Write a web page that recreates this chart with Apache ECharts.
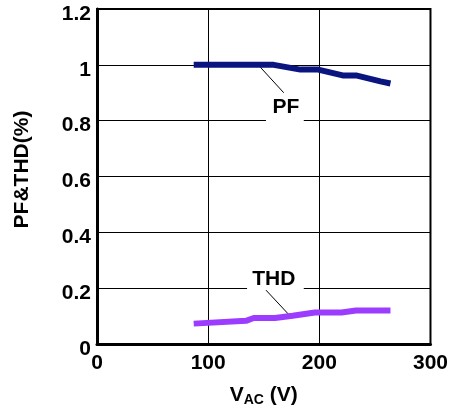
<!DOCTYPE html>
<html><head><meta charset="utf-8">
<script src="https://cdn.jsdelivr.net/npm/echarts@6/dist/echarts.min.js"></script>
<style>html,body{margin:0;padding:0;background:#fff}#c{width:451px;height:412px}</style>
</head><body><div id="c"></div>
<script>
var pfData = [[87,1.0],[159,1.0],[183,0.983],[199,0.983],[221,0.962],[233,0.962],[255,0.941],[264,0.933]];
var thdData = [[87,0.073],[134,0.083],[141,0.093],[160,0.093],[176,0.101],[196,0.113],[220,0.113],[233,0.12],[264,0.12]];
var xTicks = ['0','100','200','300'];
var yTicks = ['0','0.2','0.4','0.6','0.8','1','1.2'];
var FONT = '"Liberation Sans", Arial, sans-serif';
var chart = echarts.init(document.getElementById('c'));
chart.setOption({
  animation:false,
  grid:{left:97,right:18,top:9,bottom:66,show:true,borderColor:'#000',borderWidth:2,backgroundColor:'transparent'},
  xAxis:{type:'value',min:0,max:300,interval:100,
    axisLine:{show:true,onZero:false,lineStyle:{color:'#000',width:3}},
    axisTick:{show:false},
    splitLine:{show:true,lineStyle:{color:'#000',width:1}},
    axisLabel:{color:'#000',fontFamily:FONT,fontWeight:'bold',fontSize:21,margin:9,
      formatter:function(v){return xTicks[Math.round(v/100)];}},
    name:'{v|V}{s|AC}{v| (V)}',nameLocation:'middle',nameGap:40,
    nameTextStyle:{rich:{v:{fontFamily:FONT,fontWeight:'bold',fontSize:21,color:'#000'},
      s:{fontFamily:FONT,fontWeight:'bold',fontSize:14,color:'#000',verticalAlign:'bottom',padding:[9,0,0,0]}}}
  },
  yAxis:{type:'value',min:0,max:1.2,interval:0.2,
    axisLine:{show:true,onZero:false,lineStyle:{color:'#000',width:3}},
    axisTick:{show:false},
    splitLine:{show:true,lineStyle:{color:'#000',width:1}},
    axisLabel:{color:'#000',fontFamily:FONT,fontWeight:'bold',fontSize:21,margin:6,
      formatter:function(v){return '{a|'+yTicks[Math.round(v/0.2)]+'}';},
      rich:{a:{fontFamily:FONT,fontWeight:'bold',fontSize:21,color:'#000',padding:[10,0,0,0]}}},
    name:'PF&THD(%)',nameLocation:'middle',nameGap:64,
    nameTextStyle:{fontFamily:FONT,fontWeight:'bold',fontSize:21,color:'#000',padding:[0,0,0,14]}
  },
  series:[
    {type:'line',data:pfData,symbol:'none',lineStyle:{color:'#0a1580',width:6,cap:'butt'},z:5},
    {type:'line',data:thdData,symbol:'none',lineStyle:{color:'#9b3cff',width:6,cap:'butt'},z:5}
  ]
});
function P(x,y){return chart.convertToPixel({gridIndex:0},[x,y]);}
var g=[];
function gap(x1,x2,y){var a=P(x1,y),b=P(x2,y);g.push({type:'rect',shape:{x:a[0],y:a[1]-2,width:b[0]-a[0],height:4},style:{fill:'#fff'},z:3});}
function lead(x1,y1,x2,y2){var a=P(x1,y1),b=P(x2,y2);g.push({type:'line',shape:{x1:a[0],y1:a[1],x2:b[0],y2:b[1]},style:{stroke:'#000',lineWidth:1},z:4});}
function txt(s,x,y){var a=P(x,y);g.push({type:'text',x:a[0],y:a[1],style:{text:s,font:'bold 21px '+FONT,fill:'#000',align:'center',verticalAlign:'middle'},z:6});}
gap(152,186,0.8); gap(135,186,0.2);
lead(145,1.0,168,0.9); lead(152,0.193,175,0.095);
txt('PF',170,0.848); txt('THD',159,0.232);
chart.setOption({graphic:g});
</script></body></html>
